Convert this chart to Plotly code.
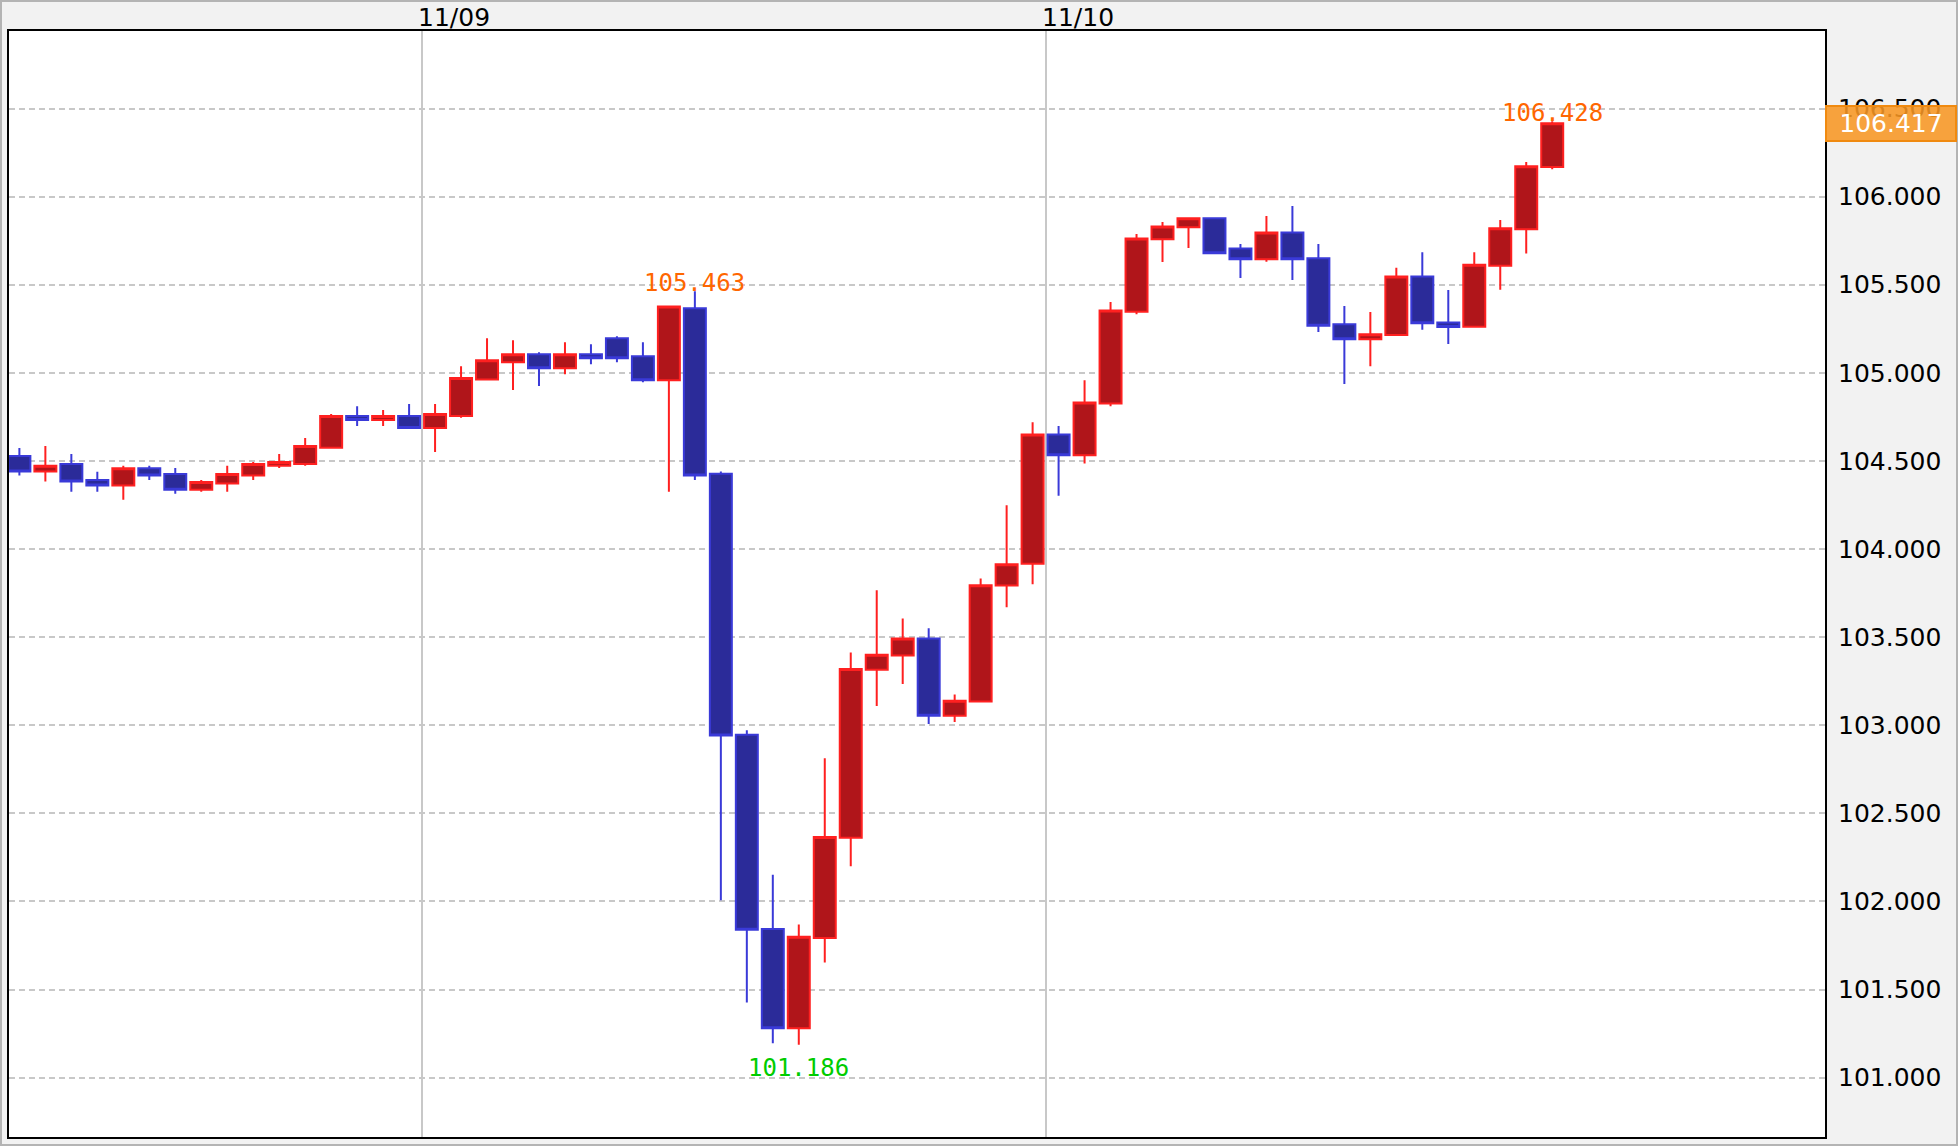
import pandas as pd
import plotly.graph_objects as go

# ---- data (USD/JPY hourly) ----
start_time = "2016-11-08 08:00"
n_candles = 60
times = pd.date_range(start_time, periods=n_candles, freq="h")

open_ = [104.528, 104.440, 104.483, 104.392, 104.360, 104.458, 104.426, 104.336, 104.372, 104.417,
         104.472, 104.483, 104.575, 104.755, 104.732, 104.755, 104.687, 104.755, 104.962, 105.060,
         105.106, 105.026, 105.106, 105.196, 105.094, 104.958, 105.366, 104.427, 102.946, 101.843,
         101.280, 101.792, 102.362, 103.315, 103.396, 103.492, 103.054, 103.135, 103.793, 103.916,
         104.650, 104.532, 104.826, 105.347, 105.758, 105.826, 105.877, 105.706, 105.644, 105.797,
         105.650, 105.275, 105.191, 105.215, 105.547, 105.286, 105.262, 105.608, 105.815, 106.168]
high = [104.574, 104.585, 104.540, 104.438, 104.472, 104.472, 104.460, 104.392, 104.472, 104.494,
        104.540, 104.630, 104.766, 104.811, 104.789, 104.823, 104.823, 105.038, 105.196, 105.185,
        105.117, 105.174, 105.162, 105.208, 105.174, 105.380, 105.463, 104.440, 102.971, 102.151,
        101.869, 102.812, 103.413, 103.766, 103.606, 103.551, 103.175, 103.833, 104.248, 104.720,
        104.698, 104.958, 105.402, 105.788, 105.856, 105.877, 105.880, 105.731, 105.890, 105.947,
        105.731, 105.379, 105.345, 105.596, 105.685, 105.470, 105.685, 105.868, 106.196, 106.428]
low = [104.417, 104.383, 104.325, 104.325, 104.279, 104.392, 104.313, 104.325, 104.325, 104.392,
       104.460, 104.472, 104.572, 104.698, 104.698, 104.684, 104.551, 104.745, 104.960, 104.902,
       104.925, 104.992, 105.049, 105.060, 104.947, 104.325, 104.392, 102.007, 101.427, 101.195,
       101.186, 101.654, 102.200, 103.109, 103.234, 103.007, 103.018, 103.130, 103.670, 103.800,
       104.303, 104.485, 104.811, 105.333, 105.629, 105.708, 105.678, 105.538, 105.631, 105.527,
       105.231, 104.937, 105.038, 105.213, 105.245, 105.164, 105.260, 105.472, 105.677, 106.155]
close = [104.440, 104.472, 104.383, 104.360, 104.458, 104.417, 104.336, 104.381, 104.426, 104.483,
         104.494, 104.585, 104.755, 104.732, 104.755, 104.687, 104.766, 104.970, 105.072, 105.106,
         105.026, 105.106, 105.083, 105.083, 104.958, 105.377, 104.417, 102.941, 101.839, 101.280,
         101.799, 102.366, 103.319, 103.400, 103.492, 103.054, 103.139, 103.795, 103.913, 104.650,
         104.532, 104.831, 105.354, 105.763, 105.831, 105.877, 105.678, 105.644, 105.797, 105.644,
         105.267, 105.191, 105.219, 105.547, 105.282, 105.260, 105.614, 105.821, 106.172, 106.417]

day_ticks = ["2016-11-09 00:00", "2016-11-10 00:00"]
day_labels = ["11/09", "11/10"]
y_ticks = [101.0, 101.5, 102.0, 102.5, 103.0, 103.5, 104.0, 104.5, 105.0, 105.5, 106.0, 106.5]
high_marks = [26, 59]   # candles whose high is labelled
low_marks = [30]        # candles whose low is labelled

# ---- layout constants ----
W, H = 1958, 1146
ML, MR, MT, MB = 9, 133, 31, 9
PW, PH = W - ML - MR, H - MT - MB
FONT = "DejaVu Sans"
MONO = "DejaVu Sans Mono"

fig = go.Figure(go.Candlestick(
    x=times, open=open_, high=high, low=low, close=close,
    xperiod=3600000, xperiodalignment="middle",
    whiskerwidth=0,
    increasing=dict(line=dict(color="#FF2020", width=2), fillcolor="#B0151A"),
    decreasing=dict(line=dict(color="#3A3AD8", width=2), fillcolor="#2B2B99"),
    hoverinfo="x+y",
))

annotations = []
# day labels on top, left-aligned at the day boundary
for tv, tl in zip(day_ticks, day_labels):
    annotations.append(dict(
        x=tv, xref="x", y=1, yref="paper", xanchor="left", yanchor="bottom",
        xshift=-6, yshift=-3, text=tl, showarrow=False,
        font=dict(family=FONT, size=25, color="black")))
for i in high_marks:
    annotations.append(dict(
        x=times[i] + pd.Timedelta(minutes=30), y=high[i], xref="x", yref="y",
        text=f"{high[i]:.3f}", showarrow=False, xanchor="center", yanchor="bottom",
        yshift=-8, font=dict(family=MONO, size=24, color="#FF6600")))
for i in low_marks:
    annotations.append(dict(
        x=times[i] + pd.Timedelta(minutes=30), y=low[i], xref="x", yref="y",
        text=f"{low[i]:.3f}", showarrow=False, xanchor="center", yanchor="top",
        yshift=-7, font=dict(family=MONO, size=24, color="#00CC00")))
# current price box
annotations.append(dict(
    x=1, xref="paper", xanchor="left", y=close[-1], yref="y", yanchor="middle",
    text=f"{close[-1]:.3f}", showarrow=False, align="center",
    width=126, height=31, borderpad=1, borderwidth=2,
    bgcolor="rgba(247,150,35,0.88)", bordercolor="#F08A10",
    font=dict(family=FONT, size=25, color="white")))

fig.update_layout(
    width=W, height=H,
    margin=dict(l=ML, r=MR, t=MT, b=MB, pad=0, autoexpand=False),
    paper_bgcolor="#F2F2F2", plot_bgcolor="white",
    showlegend=False,
    boxgap=0.154, boxgroupgap=0,
    annotations=annotations,
    shapes=[dict(type="rect", xref="paper", yref="paper",
                 x0=-ML / PW, x1=1 + MR / PW, y0=-MB / PH, y1=1 + MT / PH,
                 line=dict(color="#B4B4B4", width=4), layer="above")],
    xaxis=dict(
        type="date", rangeslider=dict(visible=False), automargin=False,
        range=["2016-11-08 08:06", "2016-11-11 06:00"],
        side="top", tickvals=day_ticks, showticklabels=False, ticks="",
        showgrid=True, gridcolor="#C8C8C8", gridwidth=2,
        showline=True, linecolor="black", linewidth=2, mirror=True,
        zeroline=False, fixedrange=True,
    ),
    yaxis=dict(
        side="right", range=[100.663, 106.940], automargin=False,
        tickvals=y_ticks, tickformat=".3f", ticks="", ticklabelstandoff=6,
        showgrid=True, gridcolor="#C8C8C8", gridwidth=2, griddash="6px,4px",
        showline=True, linecolor="black", linewidth=2, mirror=True,
        zeroline=False, fixedrange=True,
        tickfont=dict(family=FONT, size=25, color="black"),
    ),
)

fig.write_html("out.html", config={"displayModeBar": False},
               post_script="document.body.style.margin='0';document.body.style.overflow='hidden';")
